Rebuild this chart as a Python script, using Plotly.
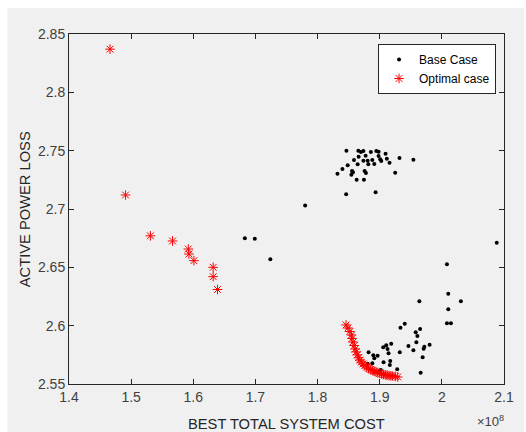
import plotly.graph_objects as go

# Costs in units of 1e8
base_x = [1.683, 1.699, 1.724, 1.780, 1.846,
          1.8464, 1.8656, 1.8698, 1.8737, 1.8858, 1.8945, 1.8982, 1.9094, 1.8773, 1.8661,
          1.8982, 1.9009, 1.9318, 1.9542, 1.8586, 1.8737, 1.8805, 1.8881, 1.9025, 1.9115,
          1.9158, 1.8485, 1.8645, 1.8817, 1.8913, 1.8400, 1.8320, 1.8554, 1.8570, 1.8544,
          1.8757, 1.8778, 1.9249, 1.8629, 1.8746, 1.8934,
          2.0883, 2.0082, 2.0103, 1.9638, 2.0306, 2.0103, 2.0082, 2.0146, 1.9650, 1.9579,
          1.9606, 1.9590, 1.9462, 1.9803, 1.9718, 1.9707, 1.9542, 1.9691, 1.9659,
          1.9403, 1.9334, 1.9185, 1.9105, 1.9057, 1.9126, 1.9142, 1.9323, 1.8821, 1.8897,
          1.8966, 1.8913, 1.9062, 1.9169, 1.9163, 1.8805, 1.8881, 1.9281, 1.8901, 1.8970,
          1.9018]
base_y = [2.675, 2.6746, 2.657, 2.703, 2.7126,
          2.750, 2.750, 2.7489, 2.7497, 2.7489, 2.7497, 2.7491, 2.7474, 2.7457, 2.7448,
          2.7454, 2.7426, 2.7437, 2.7423, 2.742, 2.7414, 2.7414, 2.742, 2.7411, 2.7431,
          2.7397, 2.7375, 2.7383, 2.7383, 2.7386, 2.7343, 2.7303, 2.7326, 2.7315, 2.7294,
          2.7326, 2.7309, 2.7311, 2.7251, 2.7251, 2.7143,
          2.6711, 2.6526, 2.6274, 2.6209, 2.6209, 2.614, 2.602, 2.602, 2.5972, 2.5943,
          2.5912, 2.5857, 2.5826, 2.5837, 2.582, 2.5803, 2.5789, 2.5729, 2.5597,
          2.6017, 2.5983, 2.5846, 2.5832, 2.5815, 2.580, 2.5763, 2.5772, 2.5772, 2.5746,
          2.5743, 2.572, 2.5686, 2.5697, 2.5663, 2.5674, 2.5678, 2.5626, 2.5606, 2.5606,
          2.562]

opt_x = [1.466, 1.491, 1.531, 1.5666, 1.592, 1.593, 1.601, 1.632, 1.632, 1.639,
         1.8458, 1.8490, 1.8520, 1.8545, 1.8555, 1.8570, 1.8590, 1.8605, 1.8620, 1.8640,
         1.8660, 1.8680, 1.8705, 1.8730, 1.8760, 1.8790, 1.8820, 1.8850, 1.8880, 1.8910,
         1.8940, 1.8970, 1.9000, 1.9030, 1.9060, 1.9090, 1.9120, 1.9150, 1.9180, 1.9210,
         1.9250, 1.9290]
opt_y = [2.837, 2.712, 2.677, 2.6726, 2.6657, 2.6614, 2.6557, 2.650, 2.642, 2.631,
         2.6006, 2.5980, 2.5950, 2.5920, 2.5890, 2.5860, 2.5830, 2.5800, 2.5775, 2.5750,
         2.5725, 2.5705, 2.5688, 2.5672, 2.5658, 2.5645, 2.5635, 2.5625, 2.5618, 2.5610,
         2.5603, 2.5597, 2.5592, 2.5587, 2.5582, 2.5578, 2.5575, 2.5572, 2.5570, 2.5568,
         2.5565, 2.5560]

x_ticks = [1.4, 1.5, 1.6, 1.7, 1.8, 1.9, 2.0, 2.1]
x_tick_labels = ["1.4", "1.5", "1.6", "1.7", "1.8", "1.9", "2", "2.1"]
y_ticks = [2.55, 2.6, 2.65, 2.7, 2.75, 2.8, 2.85]
y_tick_labels = ["2.55", "2.6", "2.65", "2.7", "2.75", "2.8", "2.85"]

FONT = "Arial, Liberation Sans, Helvetica, sans-serif"
AX = "#262626"

fig = go.Figure()
fig.add_trace(go.Scatter(x=base_x, y=base_y, mode="markers", name="Base Case",
                         marker=dict(color="black", size=4, symbol="circle")))
fig.add_trace(go.Scatter(x=opt_x, y=opt_y, mode="markers", name="Optimal case",
                         marker=dict(color="red", size=8, symbol="asterisk",
                                     line=dict(color="red", width=1))))

axis_common = dict(showline=True, linecolor=AX, linewidth=1, mirror="ticks",
                   ticks="inside", ticklen=5, tickcolor=AX, showgrid=False,
                   zeroline=False, tickfont=dict(family=FONT, size=14, color="#404040"))

fig.update_xaxes(range=[1.4, 2.1], tickvals=x_ticks, ticktext=x_tick_labels, **axis_common)
fig.update_yaxes(range=[2.55, 2.85], tickvals=y_ticks, ticktext=y_tick_labels, **axis_common)

fig.add_shape(type="rect", xref="paper", yref="paper",
              x0=(7 - 69) / 437, x1=(526 - 69) / 437, y0=(384 - 432) / 350, y1=(384 - 8) / 350,
              fillcolor="#f0f0f0", line=dict(width=0), layer="below")

fig.add_annotation(text="BEST TOTAL SYSTEM COST", xref="paper", yref="paper",
                   x=0.5, y=(384 - 424) / 350, showarrow=False,
                   xanchor="center", yanchor="middle",
                   font=dict(family=FONT, size=14.7, color="#262626"))
fig.add_annotation(text="ACTIVE POWER LOSS", xref="paper", yref="paper",
                   x=(25 - 69) / 437, y=0.5, showarrow=False, textangle=-90,
                   xanchor="center", yanchor="middle",
                   font=dict(family=FONT, size=14.7, color="#262626"))
fig.add_annotation(text="×10<sup>8</sup>", xref="paper", yref="paper",
                   x=(492 - 69) / 437, y=(384 - 421) / 350, showarrow=False,
                   xanchor="center", yanchor="middle",
                   font=dict(family=FONT, size=13, color="#404040"))

fig.update_layout(
    width=526, height=432,
    margin=dict(l=69, r=20, t=34, b=48),
    paper_bgcolor="white", plot_bgcolor="white",
    font=dict(family=FONT),
    showlegend=True,
    legend=dict(x=(498 - 69) / 437, y=(384 - 44) / 350, xanchor="right", yanchor="top",
                bgcolor="white", bordercolor=AX, borderwidth=1,
                font=dict(family=FONT, size=12, color="black"),
                tracegroupgap=0, itemsizing="trace"),
)

fig.write_html("out.html")
